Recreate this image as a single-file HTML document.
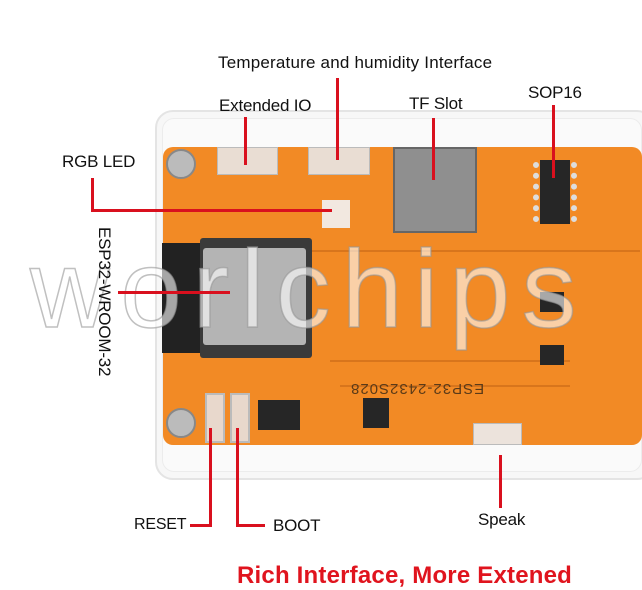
<!DOCTYPE html>
<html><head><meta charset="utf-8"><style>
body{margin:0;width:642px;height:590px;background:#fff;position:relative;overflow:hidden;font-family:"Liberation Sans",sans-serif}
div{position:absolute;box-sizing:border-box}
.t{font-size:17px;color:#111;white-space:nowrap;letter-spacing:-0.2px}
.r{background:#d9101e}
</style></head><body>
<!-- case -->
<div style="left:155px;top:110px;width:500px;height:370px;border:2px solid #e4e4e4;border-radius:18px;background:#f7f7f7"></div>
<div style="left:162px;top:118px;width:480px;height:354px;border:1px solid #ececec;border-radius:12px;background:#fafafa"></div>
<!-- pcb -->
<div style="left:163px;top:147px;width:479px;height:298px;background:#f28a25;border-radius:10px"></div>
<div style="left:170px;top:250px;width:470px;height:2px;background:#d8751c"></div>
<div style="left:330px;top:360px;width:240px;height:2px;background:#d8751c"></div>
<div style="left:340px;top:385px;width:230px;height:2px;background:#d8751c"></div>
<!-- black block left -->
<div style="left:162px;top:243px;width:40px;height:110px;background:#222"></div>
<!-- esp32 -->
<div style="left:200px;top:238px;width:112px;height:120px;background:#3a3a3a;border-radius:3px"></div>
<div style="left:203px;top:248px;width:103px;height:97px;background:#b4b4b4;border-radius:3px"></div>
<!-- screws -->
<div style="left:166px;top:149px;width:30px;height:30px;border-radius:50%;background:#bbb;border:2px solid #888"></div>
<div style="left:166px;top:408px;width:30px;height:30px;border-radius:50%;background:#bbb;border:2px solid #888"></div>
<!-- connectors -->
<div style="left:217px;top:147px;width:61px;height:28px;background:#e9ddd3;border:1px solid #bbb"></div>
<div style="left:308px;top:147px;width:62px;height:28px;background:#e9ddd3;border:1px solid #bbb"></div>
<div style="left:322px;top:200px;width:28px;height:28px;background:#f2e8e0"></div>
<!-- TF -->
<div style="left:393px;top:147px;width:84px;height:86px;background:#8f8f8f;border:2px solid #666"></div>
<!-- SOP16 -->
<div style="left:533px;top:162px;width:44px;height:60px;border-left:6px dotted #ddd;border-right:6px dotted #ddd"></div>
<div style="left:540px;top:160px;width:30px;height:64px;background:#262626"></div>
<!-- other chips -->
<div style="left:258px;top:400px;width:42px;height:30px;background:#262626"></div>
<div style="left:363px;top:398px;width:26px;height:30px;background:#262626"></div>
<div style="left:540px;top:292px;width:24px;height:20px;background:#262626"></div>
<div style="left:540px;top:345px;width:24px;height:20px;background:#262626"></div>
<!-- buttons -->
<div style="left:205px;top:393px;width:20px;height:50px;background:#e8d8cc;border:2px solid #bbb"></div>
<div style="left:230px;top:393px;width:20px;height:50px;background:#e8d8cc;border:2px solid #bbb"></div>
<!-- speak conn -->
<div style="left:473px;top:423px;width:49px;height:22px;background:#ece3dc;border:1px solid #bbb"></div>
<div style="left:350px;top:380px;font-size:15px;color:#5a3a18;transform:rotate(180deg);letter-spacing:1px">ESP32-2432S028</div>
<!-- watermark -->
<div style="left:30px;top:226px;font-size:110px;color:rgba(255,255,255,0.6);letter-spacing:11px;-webkit-text-stroke:1.5px rgba(150,150,150,0.6)">worlchips</div>
<!-- lines -->
<div class="r" style="left:336px;top:78px;width:3px;height:82px"></div>
<div class="r" style="left:244px;top:117px;width:3px;height:48px"></div>
<div class="r" style="left:432px;top:118px;width:3px;height:62px"></div>
<div class="r" style="left:552px;top:105px;width:3px;height:73px"></div>
<div class="r" style="left:91px;top:178px;width:3px;height:34px"></div>
<div class="r" style="left:91px;top:209px;width:241px;height:3px"></div>
<div class="r" style="left:118px;top:291px;width:112px;height:3px"></div>
<div class="r" style="left:209px;top:428px;width:3px;height:99px"></div>
<div class="r" style="left:190px;top:524px;width:22px;height:3px"></div>
<div class="r" style="left:236px;top:428px;width:3px;height:99px"></div>
<div class="r" style="left:236px;top:524px;width:29px;height:3px"></div>
<div class="r" style="left:499px;top:455px;width:3px;height:53px"></div>
<!-- labels -->
<div class="t" style="left:218px;top:53px;letter-spacing:0.2px">Temperature and humidity Interface</div>
<div class="t" style="left:219px;top:96px">Extended IO</div>
<div class="t" style="left:409px;top:94px">TF Slot</div>
<div class="t" style="left:528px;top:83px">SOP16</div>
<div class="t" style="left:62px;top:152px">RGB LED</div>
<div class="t" style="left:32px;top:289px;transform:rotate(90deg);transform-origin:center;width:144px;text-align:center">ESP32-WROOM-32</div>
<div class="t" style="left:134px;top:516px;font-size:16px">RESET</div>
<div class="t" style="left:273px;top:516px">BOOT</div>
<div class="t" style="left:478px;top:510px">Speak</div>
<div style="left:237px;top:562px;font-size:24px;font-weight:bold;color:#e0141e;white-space:nowrap;letter-spacing:0.2px">Rich Interface, More Extened</div>
</body></html>
